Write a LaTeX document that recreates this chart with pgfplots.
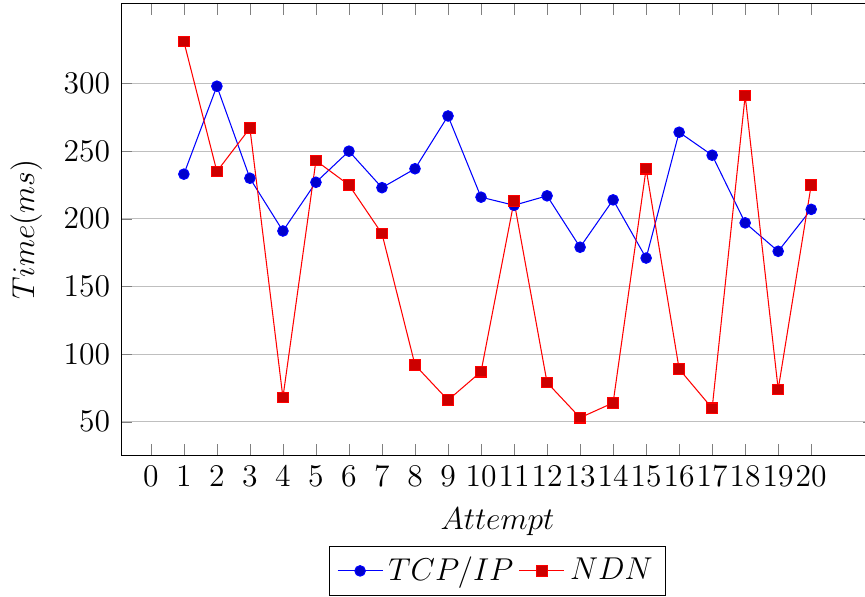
\documentclass[12pt,border=0pt]{standalone}
\usepackage{pgfplots}
\pgfplotsset{compat=1.18}

\begin{document}
\begin{tikzpicture}[trim right={([xshift=-3.4pt]ax.south east)}]
  \begin{axis}[
      name=ax,
      scale only axis,
      width=286pt, height=171.5pt,
      ymajorgrids,
      xtick={0,...,20},
      ytick={50,100,...,300},
      xlabel={$Attempt$},
      ylabel={$Time(ms)$},
      legend style={at={(0.5,-0.2)},anchor=north,legend columns=-1}
    ]
    \addplot coordinates {(1,233) (2,298) (3,230) (4,191) (5,227) (6,250) (7,223) (8,237) (9,276) (10,216)
      (11,210) (12,217) (13,179) (14,214) (15,171) (16,264) (17,247) (18,197) (19,176) (20,207)};
    \addplot coordinates {(1,331) (2,235) (3,267) (4,68) (5,243) (6,225) (7,189) (8,92) (9,66) (10,87)
      (11,213) (12,79) (13,53) (14,64) (15,237) (16,89) (17,60) (18,291) (19,74) (20,225)};
    \legend{$TCP/IP$, $NDN$}
  \end{axis}
  % small margin above the axis, as in the reference
  \path (ax.north west) ++(0,1.5pt);
\end{tikzpicture}
\end{document}
